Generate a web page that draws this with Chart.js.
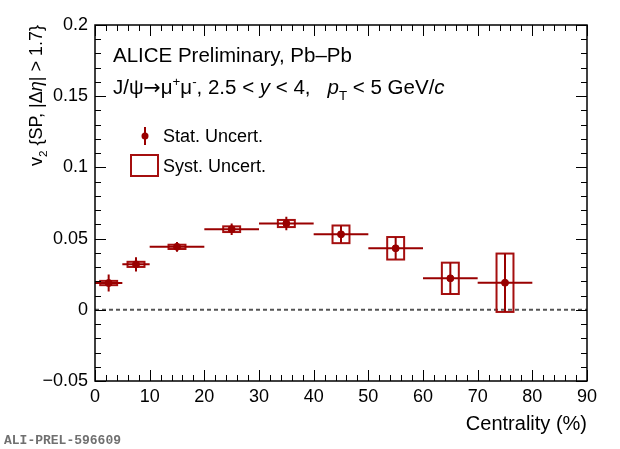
<!DOCTYPE html>
<html>
<head>
<meta charset="utf-8">
<script src="https://cdn.jsdelivr.net/npm/chart.js@4.4.1/dist/chart.umd.min.js"></script>
<style>
  html, body { margin: 0; padding: 0; background: #fff; }
</style>
</head>
<body>
<canvas id="chart" width="620" height="449"></canvas>
<script>
// centrality bins (%) and measured v2{SP}
const centLow = [0, 5, 10, 20, 30, 40, 50, 60, 70];
const centHigh = [5, 10, 20, 30, 40, 50, 60, 70, 80];
const centMid = [2.5, 7.5, 15, 25, 35, 45, 55, 65, 75];
const v2Values = [0.0188, 0.0319, 0.0442, 0.0566, 0.0606, 0.0530, 0.0432, 0.0221, 0.0190];
const statErr = [0.0060, 0.0050, 0.0035, 0.0040, 0.0048, 0.0060, 0.0077, 0.0108, 0.0203];
const systErr = [0.0015, 0.0018, 0.0015, 0.0020, 0.0025, 0.0062, 0.0079, 0.0110, 0.0205];

const xTicks = [0, 10, 20, 30, 40, 50, 60, 70, 80, 90];
const yTicks = [-0.05, 0, 0.05, 0.1, 0.15, 0.2];
const yTickLabels = ['\u22120.05', '0', '0.05', '0.1', '0.15', '0.2'];

const FONT = '"Liberation Sans", Arial, sans-serif';
const RED = '#990000';
const BOX_RED = '#a50f0f';

function runFont(r, size) {
  const s = r.sub || r.sup ? size * 0.65 : size;
  const fam = r.fam || FONT;
  return (r.italic ? 'italic ' : '') + s + 'px ' + fam;
}

function drawRuns(ctx, x, y, runs, size) {
  let cx = x;
  runs.forEach((r) => {
    ctx.font = runFont(r, size);
    let dy = 0;
    if (r.sub) dy = size * 0.3;
    if (r.sup) dy = -size * 0.38;
    ctx.fillText(r.t, cx, y + dy);
    cx += ctx.measureText(r.t).width;
  });
  return cx;
}

function runsWidth(ctx, runs, size) {
  let w = 0;
  runs.forEach((r) => {
    ctx.font = runFont(r, size);
    w += ctx.measureText(r.t).width;
  });
  return w;
}

const errorPlugin = {
  id: 'errorPlugin',
  beforeDatasetsDraw(chart) {
    const { ctx, scales: { x, y } } = chart;
    // dashed zero line
    ctx.save();
    ctx.strokeStyle = '#555';
    ctx.lineWidth = 2;
    ctx.setLineDash([4, 3]);
    ctx.beginPath();
    ctx.moveTo(x.getPixelForValue(0), y.getPixelForValue(0));
    ctx.lineTo(x.getPixelForValue(90), y.getPixelForValue(0));
    ctx.stroke();
    ctx.setLineDash([]);

    // systematic boxes
    const half = 1.55;
    ctx.strokeStyle = BOX_RED;
    ctx.lineWidth = 2;
    centMid.forEach((c, i) => {
      const x0 = x.getPixelForValue(c - half);
      const x1 = x.getPixelForValue(c + half);
      const y0 = y.getPixelForValue(v2Values[i] + systErr[i]);
      const y1 = y.getPixelForValue(v2Values[i] - systErr[i]);
      ctx.strokeRect(x0, y0, x1 - x0, y1 - y0);
    });

    // stat error bars and bin widths
    ctx.strokeStyle = RED;
    ctx.lineWidth = 2;
    centMid.forEach((c, i) => {
      const px = x.getPixelForValue(c);
      const py = y.getPixelForValue(v2Values[i]);
      ctx.beginPath();
      ctx.moveTo(x.getPixelForValue(centLow[i]), py);
      ctx.lineTo(x.getPixelForValue(centHigh[i]), py);
      ctx.moveTo(px, y.getPixelForValue(v2Values[i] + statErr[i]));
      ctx.lineTo(px, y.getPixelForValue(v2Values[i] - statErr[i]));
      ctx.stroke();
    });
    ctx.restore();
  },
  afterDraw(chart) {
    const { ctx, chartArea: a, scales: { x, y } } = chart;
    ctx.save();
    // frame
    ctx.strokeStyle = '#000';
    ctx.lineWidth = 1.5;
    ctx.strokeRect(a.left, a.top, a.right - a.left, a.bottom - a.top);

    // inward ticks on all four sides
    ctx.lineWidth = 1;
    ctx.beginPath();
    for (let v = 0; v <= 90; v += 2) {
      const px = Math.round(x.getPixelForValue(v)) + 0.5;
      const len = v % 10 === 0 ? 11 : 6;
      ctx.moveTo(px, a.bottom); ctx.lineTo(px, a.bottom - len);
      ctx.moveTo(px, a.top); ctx.lineTo(px, a.top + len);
    }
    for (let k = -5; k <= 20; k++) {
      const py = Math.round(y.getPixelForValue(k / 100)) + 0.5;
      const len = k % 5 === 0 ? 11 : 6;
      ctx.moveTo(a.left, py); ctx.lineTo(a.left + len, py);
      ctx.moveTo(a.right, py); ctx.lineTo(a.right - len, py);
    }
    ctx.stroke();

    ctx.fillStyle = '#000';
    ctx.textBaseline = 'alphabetic';
    ctx.textAlign = 'left';

    // header text
    ctx.font = '20.5px ' + FONT;
    ctx.fillText('ALICE Preliminary, Pb\u2013Pb', 113, 62);
    drawRuns(ctx, 113, 94, [
      { t: 'J/\u03c8' }, { t: '\u2192', fam: '"DejaVu Sans", sans-serif' }, { t: '\u03bc' },
      { t: '+', sup: true }, { t: '\u03bc' }, { t: '-', sup: true },
      { t: ', 2.5 < ' }, { t: 'y', italic: true }, { t: ' < 4,   ' },
      { t: 'p', italic: true }, { t: 'T', sub: true }, { t: ' < 5 GeV/' }, { t: 'c', italic: true }
    ], 20.5);

    // legend
    ctx.strokeStyle = RED;
    ctx.fillStyle = RED;
    ctx.lineWidth = 2;
    ctx.beginPath();
    ctx.moveTo(145, 127); ctx.lineTo(145, 145);
    ctx.stroke();
    ctx.beginPath();
    ctx.arc(145, 136, 3.5, 0, Math.PI * 2);
    ctx.fill();
    ctx.strokeStyle = BOX_RED;
    ctx.strokeRect(131, 155, 27, 21);
    ctx.fillStyle = '#000';
    ctx.font = '18px ' + FONT;
    ctx.fillText('Stat. Uncert.', 163, 142);
    ctx.fillText('Syst. Uncert.', 163, 172);

    // x title
    ctx.font = '20px ' + FONT;
    ctx.textAlign = 'right';
    ctx.fillText('Centrality (%)', a.right, 430);

    // y title, rotated, right-aligned to top of axis
    ctx.save();
    ctx.translate(42, a.top);
    ctx.rotate(-Math.PI / 2);
    const runs = [
      { t: 'v' }, { t: '2', sub: true }, { t: ' {SP, |\u0394' }, { t: '\u03b7', italic: true }, { t: '| > 1.7}' }
    ];
    ctx.textAlign = 'left';
    drawRuns(ctx, -runsWidth(ctx, runs, 18), 0, runs, 18);
    ctx.restore();

    // preliminary id
    ctx.textAlign = 'left';
    ctx.fillStyle = '#707070';
    ctx.font = 'bold 13px "Liberation Mono", "DejaVu Sans Mono", monospace';
    ctx.fillText('ALI-PREL-596609', 4, 444);
    ctx.restore();
  }
};

new Chart(document.getElementById('chart'), {
  type: 'scatter',
  data: {
    datasets: [{
      data: centMid.map((c, i) => ({ x: c, y: v2Values[i] })),
      backgroundColor: RED,
      borderColor: RED,
      pointRadius: 3.5,
      pointHoverRadius: 3.5
    }]
  },
  options: {
    responsive: false,
    animation: false,
    layout: { padding: { top: 25, right: 33, left: 0, bottom: 0 } },
    plugins: { legend: { display: false }, tooltip: { enabled: false } },
    scales: {
      x: {
        type: 'linear',
        min: 0,
        max: 90,
        afterBuildTicks: (scale) => { scale.ticks = xTicks.map((v) => ({ value: v })); },
        afterFit: (scale) => { scale.height = 68; },
        grid: { display: false, drawTicks: false },
        border: { display: false },
        ticks: { color: '#000', font: { family: FONT, size: 18 }, padding: 5, maxRotation: 0 }
      },
      y: {
        min: -0.05,
        max: 0.2,
        afterBuildTicks: (scale) => { scale.ticks = yTicks.map((v) => ({ value: v })); },
        afterFit: (scale) => { scale.width = 95; },
        grid: { display: false, drawTicks: false },
        border: { display: false },
        ticks: {
          color: '#000',
          font: { family: FONT, size: 18 },
          padding: 7,
          callback: (value, index) => yTickLabels[index]
        }
      }
    }
  },
  plugins: [errorPlugin]
});
</script>
</body>
</html>
